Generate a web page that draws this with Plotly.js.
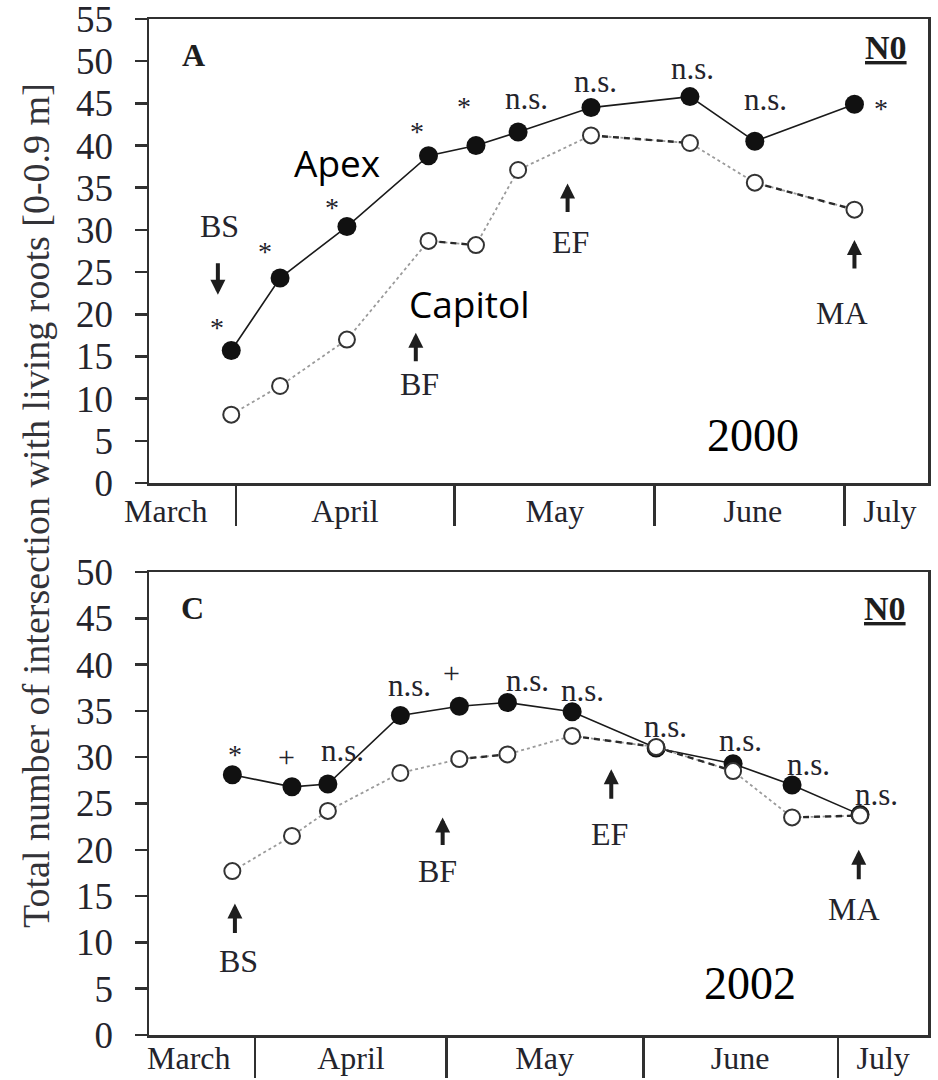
<!DOCTYPE html>
<html>
<head>
<meta charset="utf-8">
<script src="https://cdn.plot.ly/plotly-3.0.1.min.js"></script>
<style>html,body{margin:0;padding:0;background:#fff;}#chart{width:938px;height:1080px;}</style>
</head>
<body>
<div id="chart"></div>
<script>
// ---------------- data ----------------
var monthLabels = ['March', 'April', 'May', 'June', 'July'];

// Panel A (2000): sampling positions (days after 1 March)
var daysA = [30.3, 37.6, 47.6, 59.8, 66.9, 73.2, 84.1, 98.9, 108.6, 123.5];
var apex2000 = [15.7, 24.3, 30.4, 38.8, 40.0, 41.6, 44.5, 45.8, 40.5, 44.9];
var capitol2000 = [8.1, 11.5, 17.0, 28.7, 28.2, 37.1, 41.2, 40.3, 35.6, 32.4];

// Panel C (2002)
var daysC = [27.5, 36.8, 42.4, 53.7, 62.9, 70.4, 80.5, 93.6, 105.6, 114.8, 125.4];
var apex2002 = [28.1, 26.8, 27.1, 34.5, 35.5, 35.9, 34.9, 31.0, 29.3, 27.0, 23.8];
var capitol2002 = [17.7, 21.5, 24.2, 28.3, 29.8, 30.3, 32.3, 31.1, 28.5, 23.5, 23.7];

var yTicksA = [0, 5, 10, 15, 20, 25, 30, 35, 40, 45, 50, 55];
var yTicksC = [0, 5, 10, 15, 20, 25, 30, 35, 40, 45, 50];

var yTitle = 'Total number of intersection with living roots [0-0.9 m]';

// ---------------- styling / layout config ----------------
var SERIF = "'Liberation Serif', 'Times New Roman', serif";
var SANS = "'Open Sans', 'Liberation Sans', sans-serif";
var TXT = '#24242c';
var AX = '#303030';

var W = 938, H = 1080;
var xDom = [149 / W, 928 / W];
var yDomA = [1 - 483 / H, 1 - 19 / H];
var yDomC = [1 - 1035 / H, 1 - 572 / H];

var axisA = {range: [18.0, 134.5], dividers: [31, 63.7, 93.6, 122.0], labelPos: [20.5, 47.3, 78.7, 108.3, 128.8], standoff: -2};
var axisC = {range: [14.5, 136.0], dividers: [31, 60.9, 91.6, 122.0], labelPos: [20.7, 46.0, 76.2, 106.7, 129.0], standoff: -7};

function xAxis(cfg, dom, anchor) {
  return {
    domain: dom, anchor: anchor, range: cfg.range, type: 'linear',
    showline: true, mirror: true, linecolor: AX, linewidth: 2.5,
    showgrid: false, zeroline: false,
    tickmode: 'array', tickvals: cfg.labelPos, ticktext: monthLabels,
    ticks: '', ticklabelstandoff: cfg.standoff, ticklabeloverflow: 'allow',
    tickfont: {family: SERIF, size: 32, color: TXT},
    minor: {tickmode: 'array', tickvals: cfg.dividers, ticks: 'outside', ticklen: 40,
            tickwidth: 2.5, tickcolor: AX, showgrid: false}
  };
}
function yAxis(range, ticks, dom, anchor) {
  return {
    domain: dom, anchor: anchor, range: range, type: 'linear',
    showline: true, mirror: true, linecolor: AX, linewidth: 2.5,
    showgrid: false, zeroline: false,
    tickmode: 'array', tickvals: ticks, ticktext: ticks.map(String),
    ticks: 'outside', ticklen: 12, tickwidth: 2.5, tickcolor: AX,
    ticklabelstandoff: 14, ticklabeloverflow: 'allow',
    tickfont: {family: SERIF, size: 37, color: TXT}
  };
}

function darkSegments(xs, ys, pairs) {
  var sx = [], sy = [];
  pairs.forEach(function (p) {
    sx.push(xs[p[0]], xs[p[1]], null);
    sy.push(ys[p[0]], ys[p[1]], null);
  });
  return {sx: sx, sy: sy};
}

function panelTraces(xs, apex, cap, darkPairs, xa, ya) {
  var seg = darkSegments(xs, cap, darkPairs);
  return [
    {x: xs, y: apex, xaxis: xa, yaxis: ya, type: 'scatter', mode: 'lines+markers',
     line: {color: '#1a1a1a', width: 1.6},
     marker: {symbol: 'circle', size: 19, color: '#111', line: {width: 0}},
     showlegend: false, hoverinfo: 'skip'},
    {x: xs, y: cap, xaxis: xa, yaxis: ya, type: 'scatter', mode: 'lines',
     line: {color: '#9a9a9a', width: 1.8, dash: 'dot'}, showlegend: false, hoverinfo: 'skip'},
    {x: seg.sx, y: seg.sy, xaxis: xa, yaxis: ya, type: 'scatter', mode: 'lines',
     line: {color: '#2a2a2a', width: 2.4, dash: '6px,5px'}, connectgaps: false,
     showlegend: false, hoverinfo: 'skip'},
    {x: xs, y: cap, xaxis: xa, yaxis: ya, type: 'scatter', mode: 'markers',
     marker: {symbol: 'circle', size: 16, color: '#ffffff', line: {color: '#333', width: 2}},
     showlegend: false, hoverinfo: 'skip'}
  ];
}

var data = []
  .concat(panelTraces(daysA, apex2000, capitol2000, [[3, 4], [6, 7], [8, 9]], 'x', 'y'))
  .concat(panelTraces(daysC, apex2002, capitol2002, [[4, 5], [6, 7], [7, 8], [9, 10]], 'x2', 'y2'));

// ---------------- annotations ----------------
var ann = [];
function txt(xr, yr, x, y, t, size, opts) {
  opts = opts || {};
  ann.push({xref: xr, yref: yr, x: x, y: y, text: t, showarrow: false,
            xanchor: 'center', yanchor: 'middle',
            font: {family: opts.family || SERIF, size: size, color: opts.color || TXT}});
}
function arrow(xr, yr, x, yHead, ay) {
  ann.push({xref: xr, yref: yr, x: x, y: yHead, text: '', showarrow: true,
            ax: 0, ay: ay, arrowhead: 2, arrowsize: 0.75, arrowwidth: 4, arrowcolor: '#1e1e1e',
            standoff: 0, startstandoff: 0});
}

// Panel A
txt('x', 'y', 24.6, 50.7, '<b>A</b>', 32, {color: '#1e1e1e'});
txt('x', 'y', 128.2, 51.6, '<b><u>N0</u></b>', 34, {color: '#1e1e1e'});
txt('x', 'y', 28.1, 18.4, '*', 28);
txt('x', 'y', 35.3, 27.4, '*', 28);
txt('x', 'y', 45.4, 32.7, '*', 28);
txt('x', 'y', 58.1, 41.7, '*', 28);
txt('x', 'y', 65.1, 44.6, '*', 28);
txt('x', 'y', 74.5, 45.6, 'n.s.', 31);
txt('x', 'y', 84.8, 47.6, 'n.s.', 31);
txt('x', 'y', 99.3, 49.1, 'n.s.', 31);
txt('x', 'y', 110.2, 45.4, 'n.s.', 31);
txt('x', 'y', 127.4, 44.4, '*', 28);
txt('x', 'y', 28.6, 30.5, 'BS', 32);
arrow('x', 'y', 28.3, 22.3, -33);
txt('x', 'y', 58.4, 11.7, 'BF', 32);
arrow('x', 'y', 57.9, 17.8, 30);
txt('x', 'y', 81.1, 28.6, 'EF', 32);
arrow('x', 'y', 80.6, 35.5, 30);
txt('x', 'y', 121.7, 20.2, 'MA', 32);
arrow('x', 'y', 123.5, 28.8, 30);
txt('x', 'y', 46.1, 38.0, 'Apex', 37, {family: SANS, color: '#000'});
txt('x', 'y', 66.0, 21.3, 'Capitol', 37, {family: SANS, color: '#000'});
txt('x', 'y', 108.3, 5.6, '2000', 46, {color: '#000'});

// Panel C
txt('x2', 'y2', 21.3, 46.1, '<b>C</b>', 32, {color: '#1e1e1e'});
txt('x2', 'y2', 129.3, 46.1, '<b><u>N0</u></b>', 34, {color: '#1e1e1e'});
txt('x2', 'y2', 27.9, 30.3, '*', 28);
txt('x2', 'y2', 36.0, 30.1, '+', 30);
txt('x2', 'y2', 44.7, 30.7, 'n.s.', 31);
txt('x2', 'y2', 55.1, 37.7, 'n.s.', 31);
txt('x2', 'y2', 61.7, 39.2, '+', 30);
txt('x2', 'y2', 73.5, 38.3, 'n.s.', 31);
txt('x2', 'y2', 82.1, 37.2, 'n.s.', 31);
txt('x2', 'y2', 95.0, 33.3, 'n.s.', 31);
txt('x2', 'y2', 106.7, 31.8, 'n.s.', 31);
txt('x2', 'y2', 117.4, 29.2, 'n.s.', 31);
txt('x2', 'y2', 128.0, 26.0, 'n.s.', 31);
txt('x2', 'y2', 28.4, 8.0, 'BS', 32);
arrow('x2', 'y2', 27.9, 14.2, 31);
txt('x2', 'y2', 59.5, 17.7, 'BF', 32);
arrow('x2', 'y2', 60.3, 23.5, 29);
txt('x2', 'y2', 86.3, 21.7, 'EF', 32);
arrow('x2', 'y2', 86.6, 28.7, 31);
txt('x2', 'y2', 124.5, 13.6, 'MA', 32);
arrow('x2', 'y2', 125.2, 20.0, 31);
txt('x2', 'y2', 108.3, 5.6, '2002', 46, {color: '#000'});

// shared y title
ann.push({xref: 'paper', yref: 'paper', x: 36 / W, y: 1 - 506 / H, text: yTitle,
          textangle: -90, showarrow: false, xanchor: 'center', yanchor: 'middle',
          font: {family: SERIF, size: 38, color: '#333338'}});

var layout = {
  width: W, height: H, autosize: false,
  margin: {l: 0, r: 0, t: 0, b: 0, pad: 0},
  paper_bgcolor: '#ffffff', plot_bgcolor: '#ffffff',
  showlegend: false,
  xaxis: xAxis(axisA, xDom, 'y'),
  yaxis: yAxis([0, 55], yTicksA, yDomA, 'x'),
  xaxis2: xAxis(axisC, xDom, 'y2'),
  yaxis2: yAxis([0, 50], yTicksC, yDomC, 'x2'),
  annotations: ann
};

Plotly.newPlot('chart', data, layout, {displayModeBar: false, staticPlot: true});
</script>
</body>
</html>
